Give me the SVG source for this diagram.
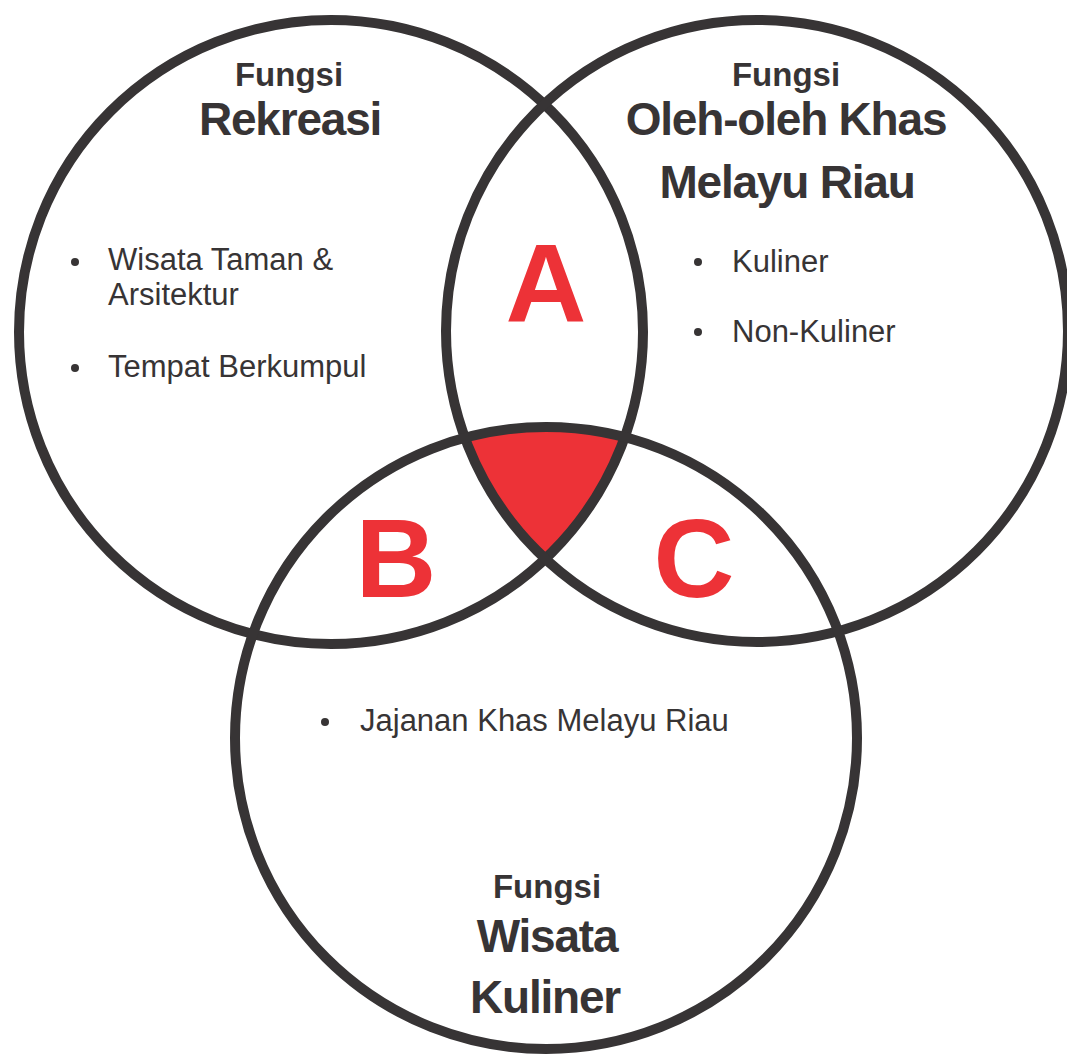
<svg xmlns="http://www.w3.org/2000/svg" width="1067" height="1055" viewBox="0 0 1067 1055">
<style>
.ring{fill:none;stroke:#373435;stroke-width:10}
.title{font-family:"Liberation Sans",Arial,sans-serif;font-weight:bold;fill:#373435;text-anchor:middle}
.small{font-size:33px}
.big{font-size:46px;letter-spacing:-1.2px}
.item{font-family:"Liberation Sans",Arial,sans-serif;font-size:31px;fill:#373435}
.letter{font-family:"Liberation Sans",Arial,sans-serif;font-weight:bold;font-size:112px;fill:#ED3237;text-anchor:middle}
.dot{fill:#373435}
</style>
<defs>
<clipPath id="cL"><circle cx="331" cy="332" r="312"/></clipPath>
<clipPath id="cR"><circle cx="757" cy="331" r="311"/></clipPath>
</defs>
<rect width="1067" height="1055" fill="#ffffff"/>
<g id="center-region" clip-path="url(#cL)">
<circle cx="546" cy="738" r="311" fill="#ED3237" clip-path="url(#cR)"/>
</g>
<g id="connectors"></g>
<g id="rekreasi">
<circle class="ring" cx="331" cy="332" r="312"/>
<text class="title small" x="289" y="86">Fungsi</text>
<text class="title big" x="290" y="135">Rekreasi</text>
<circle class="dot" cx="75" cy="262" r="4"/>
<text class="item" x="108" y="270">Wisata Taman &amp;</text>
<text class="item" x="108" y="305">Arsitektur</text>
<circle class="dot" cx="75" cy="368" r="4"/>
<text class="item" x="108" y="377">Tempat Berkumpul</text>
</g>
<g id="oleh-oleh">
<circle class="ring" cx="757" cy="331" r="311"/>
<text class="title small" x="786" y="86">Fungsi</text>
<text class="title big" x="786" y="135">Oleh-oleh Khas</text>
<text class="title big" x="787" y="198">Melayu Riau</text>
<circle class="dot" cx="698" cy="262" r="4"/>
<text class="item" x="732" y="272">Kuliner</text>
<circle class="dot" cx="698" cy="332" r="4"/>
<text class="item" x="732" y="342">Non-Kuliner</text>
</g>
<g id="wisata-kuliner">
<circle class="ring" cx="546" cy="738" r="311"/>
<circle class="dot" cx="325" cy="722" r="4"/>
<text class="item" x="360" y="731">Jajanan Khas Melayu Riau</text>
<text class="title small" x="547" y="898">Fungsi</text>
<text class="title big" x="547" y="952">Wisata</text>
<text class="title big" x="545" y="1013">Kuliner</text>
</g>
<g id="label-A"><text class="letter" x="546" y="322">A</text></g>
<g id="label-B"><text class="letter" x="396" y="597">B</text></g>
<g id="label-C"><text class="letter" x="694" y="597">C</text></g>
</svg>
